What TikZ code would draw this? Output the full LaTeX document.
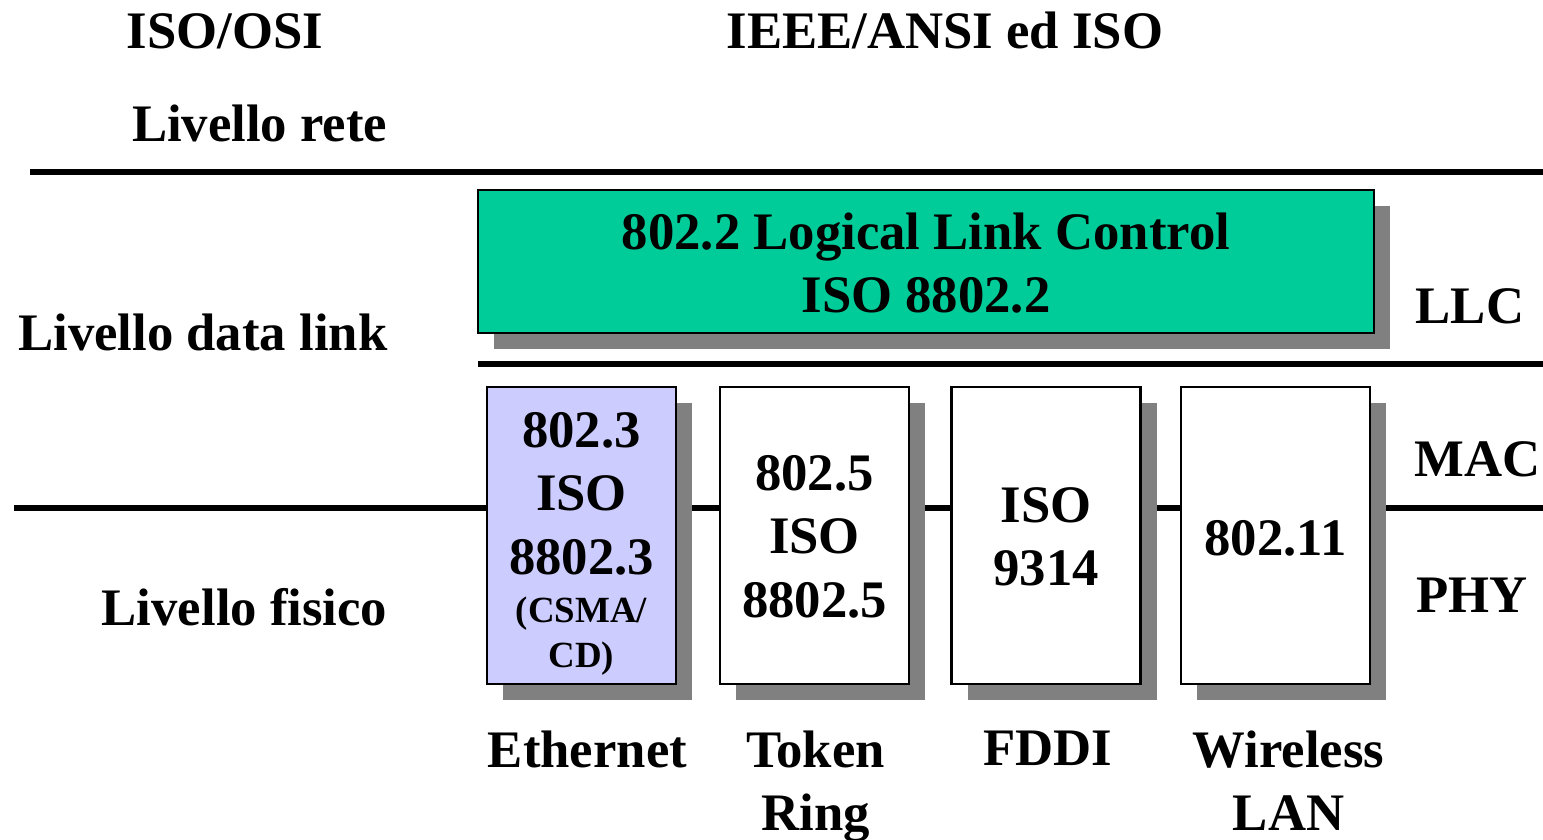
\documentclass[tikz,border=0pt]{standalone}
\usepackage{fontspec}
\setmainfont{Liberation Serif}
\usetikzlibrary{shadows}
\definecolor{llcgreen}{RGB}{0,204,153}
\definecolor{ethblue}{RGB}{204,204,255}
\definecolor{shadowgray}{RGB}{128,128,128}
\tikzset{
  layerline/.style={line width=1.6pt},
  txt/.style={inner sep=0pt, font=\fontsize{15}{18}\selectfont\bfseries},
  shadowbox/.style={draw, line width=.7pt, fill=white, inner sep=0pt,
    drop shadow={shadow xshift=.16cm, shadow yshift=-.16cm, fill=shadowgray, opacity=1}},
  macbox/.style={shadowbox, minimum width=1.89cm, minimum height=2.97cm},
}
\newcommand{\smalltxt}{\fontsize{10.5}{12.6}\selectfont}
\begin{document}
\begin{tikzpicture}
\useasboundingbox (0,0) rectangle (15.43,-8.39);
% layer boundaries
\coordinate (reteL) at (0.30,-1.72);
\coordinate (reteR) at (15.43,-1.72);
\coordinate (llcL) at (4.78,-3.64);
\coordinate (llcR) at (15.43,-3.64);
\coordinate (phyL) at (0.14,-5.08);
\coordinate (phyR) at (15.43,-5.08);
\draw[layerline] (reteL) -- (reteR);
\draw[layerline] (llcL) -- (llcR);
\draw[layerline] (phyL) -- (phyR);
% titles and levels
\node[txt, anchor=base] (osi) at (2.25,-0.48) {ISO/OSI};
\node[txt, anchor=base] (ieee) at (9.45,-0.48) {IEEE/ANSI ed ISO};
\node[txt, anchor=base east] (rete) at (3.88,-1.41) {Livello rete};
\node[txt, anchor=base east] (dlink) at (3.88,-3.50) {Livello data link};
\node[txt, anchor=base east] (fisico) at (3.88,-6.25) {Livello fisico};
\node[txt, anchor=base west] (llclab) at (14.15,-3.23) {LLC};
\node[txt, anchor=base west] (maclab) at (14.14,-4.76) {MAC};
\node[txt, anchor=base west] (phylab) at (14.16,-6.12) {PHY};
% LLC
\node[shadowbox, fill=llcgreen, minimum width=8.96cm, minimum height=1.43cm] (llc) at (9.26,-2.615) {};
\node[txt, align=center, anchor=north] (llctxt) at ([yshift=-.23cm]llc.north) {802.2 Logical Link Control\\ISO 8802.2};
% MAC / PHY
\node[macbox, fill=ethblue] (eth) at (5.815,-5.355) {};
\node[macbox] (token) at (8.145,-5.355) {};
\node[macbox] (fddi) at (10.46,-5.355) {};
\node[macbox] (wlan) at (12.755,-5.355) {};
\node[txt, align=center, anchor=north] (ethtxt) at ([yshift=-.26cm]eth.north)
  {802.3\\ISO\\8802.3\\[-4.1pt]{\smalltxt (CSMA/}\\[-5.2pt]{\smalltxt CD)}};
\node[txt, align=center, anchor=north] (tokentxt) at ([yshift=-.69cm]token.north) {802.5\\ISO\\8802.5};
\node[txt, align=center, anchor=north] (fdditxt) at ([yshift=-1.01cm]fddi.north) {ISO\\9314};
\node[txt, align=center, anchor=north] (wlantxt) at ([yshift=-1.34cm]wlan.north) {802.11};
% networks
\node[txt, align=center, anchor=north] (ethlab) at (5.875,-7.30) {Ethernet};
\node[txt, align=center, anchor=north] (toklab) at (8.155,-7.30) {Token\\Ring};
\node[txt, align=center, anchor=north] (fddilab) at (10.475,-7.30) {FDDI};
\node[txt, align=center, anchor=north] (wlanlab) at (12.885,-7.30) {Wireless\\LAN};
\end{tikzpicture}
\end{document}
